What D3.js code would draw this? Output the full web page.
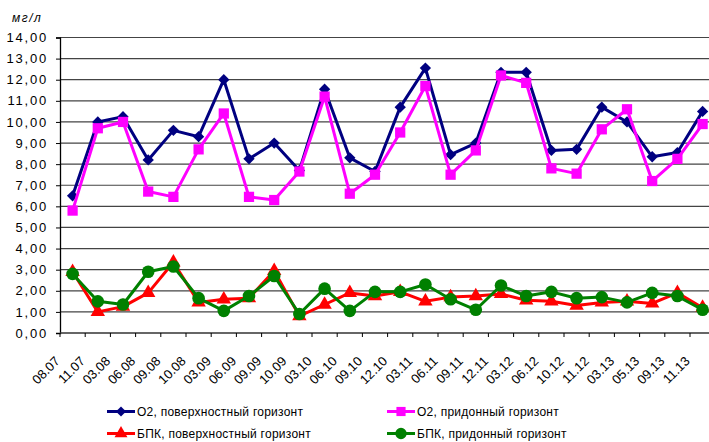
<html>
<head>
<meta charset="utf-8">
<script src="https://cdn.jsdelivr.net/npm/d3@7"></script>
<style>
  body { margin: 0; background: #fff; }
  text { font-family: "Liberation Sans", Arial, sans-serif; fill: #000; }
</style>
</head>
<body>
<svg id="chart"></svg>
<script>
// dates of sampling
let dates = ["08.07","11.07","03.08","06.08","09.08","10.08","03.09","06.09","09.09","10.09",
             "03.10","06.10","09.10","12.10","03.11","06.11","09.11","12.11","03.12","06.12",
             "10.12","11.12","03.13","05.13","09.13","11.13"];

let o2Surface = [6.5,10.0,10.25,8.2,9.6,9.3,12.0,8.25,9.0,7.7,
                 11.55,8.3,7.65,10.7,12.55,8.45,9.0,12.35,12.35,8.65,
                 8.7,10.7,10.0,8.35,8.55,10.5];
let o2Bottom  = [5.8,9.7,10.0,6.7,6.45,8.7,10.4,6.45,6.3,7.65,
                 11.2,6.6,7.5,9.5,11.7,7.5,8.65,12.2,11.85,7.8,
                 7.55,9.65,10.6,7.2,8.25,9.9];
let bpkSurface = [2.9,1.0,1.25,1.9,3.35,1.45,1.6,1.65,2.95,0.8,
                  1.35,1.9,1.75,1.95,1.5,1.7,1.75,1.85,1.55,1.5,
                  1.3,1.45,1.5,1.4,1.9,1.2];
let bpkBottom = [2.8,1.5,1.35,2.9,3.15,1.65,1.05,1.75,2.7,0.9,
                 2.1,1.05,1.95,1.95,2.3,1.6,1.1,2.25,1.75,1.95,
                 1.65,1.7,1.45,1.9,1.75,1.1];

let yTicks = [0,1,2,3,4,5,6,7,8,9,10,11,12,13,14];

let seriesNames = ["О2, поверхностный горизонт","О2, придонный горизонт",
                   "БПК, поверхностный горизонт","БПК, придонный горизонт"];
let seriesColors = ["#000080","#ff00ff","#ff0000","#008000"];
let seriesMarkers = [d3.symbolSquare, d3.symbolSquare, d3.symbolTriangle, d3.symbolCircle];
let markerSizes = [64, 105, 90, 125];
let markerRotate = [45, 0, 0, 0];
let allSeries = [o2Surface, o2Bottom, bpkSurface, bpkBottom];

let chartWidth = 709, chartHeight = 442;
let plotLeft = 60, plotTop = 37.5, plotBottom = 333;
let step = 25.2;

let svg = d3.select("#chart").attr("width", chartWidth).attr("height", chartHeight);

let x = d3.scaleBand().domain(dates).range([plotLeft, plotLeft + step * dates.length]);
let y = d3.scaleLinear().domain([0, 14]).range([plotBottom, plotTop]);

// grid
svg.append("g")
    .selectAll("line")
    .data(yTicks.filter(d => d > 0))
    .enter()
    .append("line")
    .attr("x1", plotLeft).attr("x2", chartWidth)
    .attr("y1", d => y(d)).attr("y2", d => y(d))
    .attr("stroke", "#444")
    .attr("stroke-width", 1.2);

// y axis
let yAxis = d3.axisLeft(y).tickValues(yTicks).tickSize(4).tickPadding(8)
    .tickFormat(d => d3.format(".2f")(d).replace(".", ","));
let yg = svg.append("g").attr("transform", `translate(${plotLeft},0)`).call(yAxis);
yg.attr("font-family", null).attr("font-size", null);
yg.select(".domain").attr("stroke", "#000").attr("stroke-width", 1.3);
yg.selectAll(".tick line").attr("stroke", "#000");
yg.selectAll(".tick text").style("font-size", "13px").style("letter-spacing", "1.8px");

// x axis
let xg = svg.append("g").attr("transform", `translate(0,${plotBottom})`);
xg.append("line").attr("x1", plotLeft).attr("x2", chartWidth).attr("y1", 0).attr("y2", 0)
    .attr("stroke", "#333").attr("stroke-width", 1.3);
xg.selectAll(".xt")
    .data(dates)
    .enter()
    .append("line")
    .attr("class", "xt")
    .attr("x1", d => x(d)).attr("x2", d => x(d))
    .attr("y1", 0).attr("y2", 4)
    .attr("stroke", "#000");
xg.selectAll(".xl")
    .data(dates)
    .enter()
    .append("text")
    .attr("class", "xl")
    .attr("text-anchor", "end")
    .attr("transform", d => `translate(${x(d) + x.bandwidth() / 2 - 12},29) rotate(-45)`)
    .style("font-size", "13px")
    .text(d => d);

// unit
svg.append("text").attr("x", 12).attr("y", 22)
    .style("font-size", "12px").style("font-style", "italic").style("letter-spacing", "1.5px")
    .text("мг/л");

// series
let line = d3.line().x((d, i) => x(dates[i]) + x.bandwidth() / 2).y(d => y(d));
allSeries.forEach((data, k) => {
    let g = svg.append("g");
    g.append("path").datum(data)
        .attr("d", line)
        .attr("fill", "none")
        .attr("stroke", seriesColors[k])
        .attr("stroke-width", 3)
        .attr("stroke-linejoin", "round");
    g.selectAll("path.m")
        .data(data)
        .enter()
        .append("path")
        .attr("class", "m")
        .attr("d", d3.symbol().type(seriesMarkers[k]).size(markerSizes[k]))
        .attr("transform", (d, i) => `translate(${x(dates[i]) + x.bandwidth() / 2},${y(d)}) rotate(${markerRotate[k]})`)
        .attr("fill", seriesColors[k]);
});

// legend
let legendPos = [[107, 411.5], [387, 411.5], [107, 433.5], [387, 433.5]];
seriesNames.forEach((name, k) => {
    let [lx, ly] = legendPos[k];
    let g = svg.append("g").attr("transform", `translate(${lx},${ly})`);
    g.append("line").attr("x1", 0).attr("x2", 28).attr("y1", 0).attr("y2", 0)
        .attr("stroke", seriesColors[k]).attr("stroke-width", 3);
    g.append("path")
        .attr("d", d3.symbol().type(seriesMarkers[k]).size(markerSizes[k] * 0.8))
        .attr("transform", `translate(14,0) rotate(${markerRotate[k]})`)
        .attr("fill", seriesColors[k]);
    g.append("text").attr("x", 30).attr("y", 4.5)
        .style("font-size", "12px").style("letter-spacing", "0.25px")
        .text(name);
});
</script>
</body>
</html>
